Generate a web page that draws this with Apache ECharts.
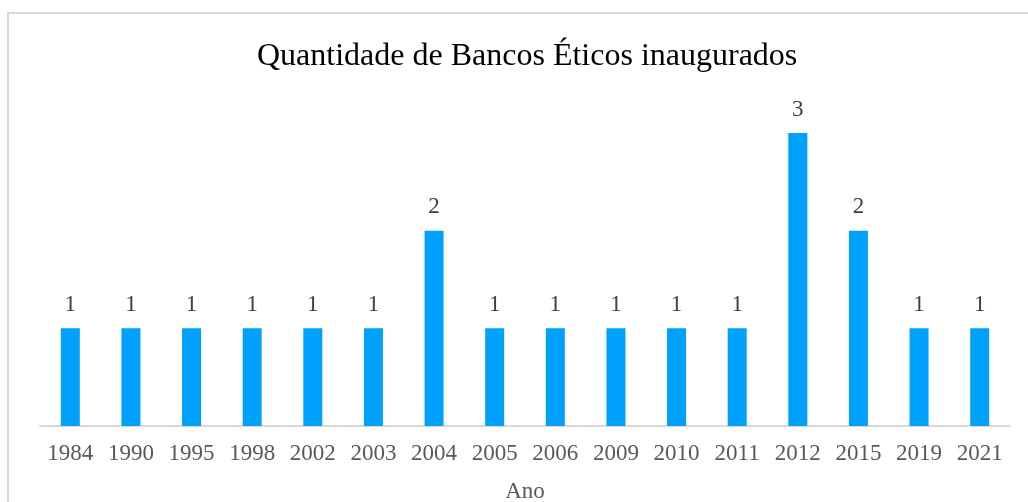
<!DOCTYPE html>
<html>
<head>
<meta charset="utf-8">
<script src="https://cdn.jsdelivr.net/npm/echarts@6/dist/echarts.min.js"></script>
<style>
  html, body { margin: 0; padding: 0; background: #fff; overflow: hidden; }
  #chart { width: 1028px; height: 502px; }
</style>
</head>
<body>
<div id="chart"></div>
<script>
const years = ['1984', '1990', '1995', '1998', '2002', '2003', '2004', '2005', '2006', '2009', '2010', '2011', '2012', '2015', '2019', '2021']
const counts = [1, 1, 1, 1, 1, 1, 2, 1, 1, 1, 1, 1, 3, 2, 1, 1]

const BAR_COLOR = '#00A1FA'
const TEXT_COLOR = '#595959'
const AXIS_COLOR = '#D9D9D9'
const FONT = '"Liberation Serif", "Times New Roman", serif'

const chart = echarts.init(document.getElementById('chart'), null, { renderer: 'canvas' })

chart.setOption({
  animation: false,
  backgroundColor: '#fff',
  graphic: [
    {
      type: 'rect',
      shape: { x: 8, y: 13, width: 1300, height: 800 },
      style: { fill: 'none', stroke: AXIS_COLOR, lineWidth: 2 },
      silent: true,
    },
  ],
  title: {
    text: 'Quantidade de Bancos Éticos inaugurados',
    left: 252,
    top: 36,
    textStyle: { fontFamily: FONT, fontSize: 32, fontWeight: 'normal', color: '#000' },
  },
  grid: { left: 40, right: 18, top: 133, bottom: 76, outerBoundsMode: 'none' },
  xAxis: {
    type: 'category',
    data: years,
    name: 'Ano',
    nameLocation: 'middle',
    nameGap: 54,
    nameTextStyle: { fontFamily: FONT, fontSize: 23, color: TEXT_COLOR },
    axisLine: { lineStyle: { color: AXIS_COLOR, width: 2 } },
    axisTick: { show: false },
    axisLabel: { fontFamily: FONT, fontSize: 23, color: TEXT_COLOR, margin: 16, interval: 0 },
  },
  yAxis: {
    type: 'value',
    min: 0,
    max: 3,
    show: false,
  },
  series: [
    {
      type: 'bar',
      data: counts,
      barWidth: 19,
      itemStyle: { color: BAR_COLOR },
      label: {
        show: true,
        position: 'top',
        distance: 12,
        fontFamily: FONT,
        fontSize: 23,
        color: '#404040',
      },
    },
  ],
})
</script>
</body>
</html>
